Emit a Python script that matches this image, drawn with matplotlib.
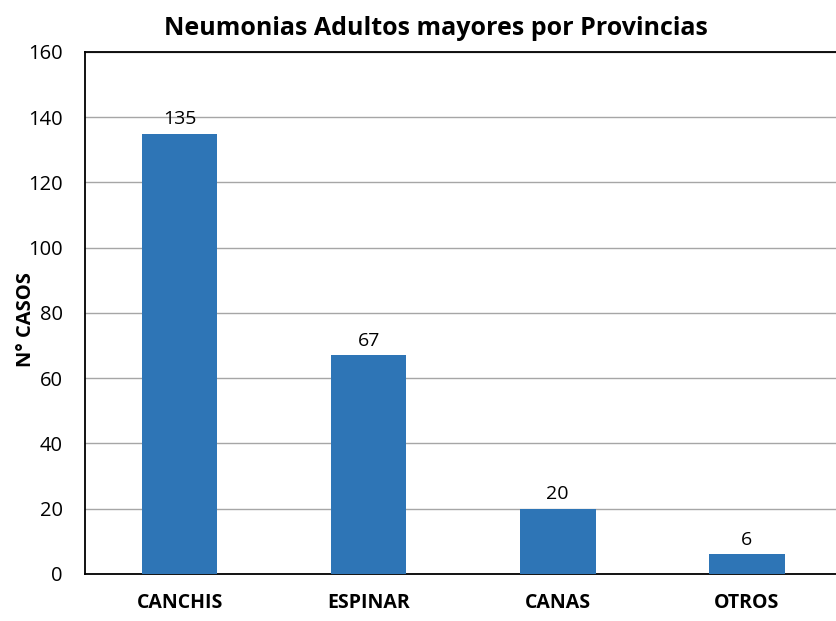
import matplotlib as mpl
mpl.use('Agg')
import matplotlib.pyplot as plt

provincias = ["CANCHIS", "ESPINAR", "CANAS", "OTROS"]
casos = [135, 67, 20, 6]
yticks = [0, 20, 40, 60, 80, 100, 120, 140, 160]

plt.rcParams['font.family'] = ['Open Sans', 'DejaVu Sans']

fig = plt.figure(figsize=(8.37, 6.21), dpi=100)
ax = fig.add_axes([0.1016, 0.0757, 0.9036, 0.8406])

x = range(len(provincias))
bars = ax.bar(x, casos, width=0.4, color='#2E75B6', zorder=3)
for b, v in zip(bars, casos):
    ax.annotate(str(v), (b.get_x() + b.get_width() / 2, v),
                xytext=(0, 4), textcoords='offset points',
                ha='center', va='bottom', fontsize=14, color='black')

ax.set_xlim(-0.5, 3.5)
ax.set_ylim(0, 160)
ax.set_yticks(yticks)
ax.set_xticks(list(x))
ax.set_xticklabels(provincias, fontsize=14, fontweight='bold')
ax.tick_params(axis='y', labelsize=14.5, length=0, pad=16)
ax.tick_params(axis='x', length=0, pad=14)
ax.yaxis.grid(True, color='#A6A6A6', linewidth=1, zorder=0)

for s in ['left', 'bottom', 'top']:
    ax.spines[s].set_color('black')
    ax.spines[s].set_linewidth(1.3)
ax.spines['right'].set_visible(False)

fig.text(26 / 837, 1 - 320 / 621, "N° CASOS", rotation=90,
         ha='center', va='center', fontsize=14.5, fontweight='bold')
fig.text(436 / 837, 1 - 35 / 621, "Neumonias Adultos mayores por Provincias",
         ha='center', va='baseline', fontsize=18, fontweight='bold')

fig.savefig('out.png', dpi=100)
